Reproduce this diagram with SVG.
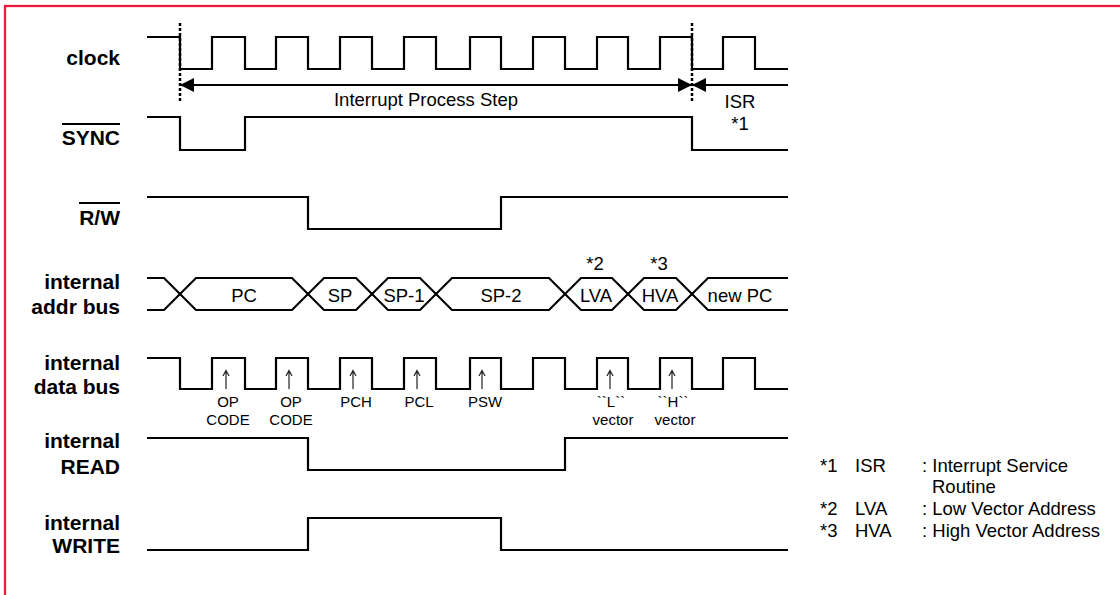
<svg xmlns="http://www.w3.org/2000/svg" width="1120" height="595" viewBox="0 0 1120 595">
<defs>
<style>
.lbl{font-family:"Liberation Sans",Arial,sans-serif;font-weight:bold;font-size:21px;fill:#000;text-anchor:end}
.t{font-family:"Liberation Sans",Arial,sans-serif;font-size:18.5px;fill:#000}
.s{font-family:"Liberation Sans",Arial,sans-serif;font-size:15px;fill:#000;text-anchor:middle}
.m{text-anchor:middle}
.sig{fill:none;stroke:#000;stroke-width:2.2;stroke-linejoin:miter}
.dot{stroke:#000;stroke-width:2.5;stroke-dasharray:3 2}
.ov{stroke:#000;stroke-width:2}
.up{stroke:#222;stroke-width:1.2;fill:none}
</style>
<marker id="ah" viewBox="0 0 10 10" refX="10" refY="5" markerWidth="16" markerHeight="14" markerUnits="userSpaceOnUse" orient="auto">
<path d="M0,0 L10,5 L0,10 Z" fill="#000"/>
</marker>
</defs>
<rect x="0" y="0" width="1120" height="595" fill="#fff"/>
<rect x="5" y="6" width="1300" height="800" fill="none" stroke="#f0193e" stroke-width="2.3"/>

<g id="labels">
<text class="lbl" x="120" y="65">clock</text>
<text class="lbl" x="120" y="145">SYNC</text>
<line class="ov" x1="62" y1="124" x2="120" y2="124"/>
<text class="lbl" x="120" y="225">R/W</text>
<line class="ov" x1="79" y1="203" x2="120" y2="203"/>
<text class="lbl" x="120" y="289">internal</text>
<text class="lbl" x="120" y="314">addr bus</text>
<text class="lbl" x="120" y="370">internal</text>
<text class="lbl" x="120" y="394">data bus</text>
<text class="lbl" x="120" y="448">internal</text>
<text class="lbl" x="120" y="474">READ</text>
<text class="lbl" x="120" y="530">internal</text>
<text class="lbl" x="120" y="553">WRITE</text>
</g>

<g id="clock">
<path class="sig" d="M147,37 H180 V69 H212 V37 H245 V69 H276 V37 H308 V69 H340 V37 H372 V69 H404 V37 H436 V69 H470 V37 H501 V69 H533 V37 H565 V69 H597 V37 H628 V69 H660 V37 H692 V69 H723 V37 H755 V69 H788"/>
</g>

<g id="connectors">
<line class="dot" x1="180" y1="23" x2="180" y2="101"/>
<line class="dot" x1="692" y1="23" x2="692" y2="101"/>
<line x1="195" y1="85" x2="180" y2="85" stroke="#000" stroke-width="2.2" marker-end="url(#ah)"/>
<line x1="195" y1="85" x2="677" y2="85" stroke="#000" stroke-width="2.2"/>
<line x1="677" y1="85" x2="692" y2="85" stroke="#000" stroke-width="2.2" marker-end="url(#ah)"/>
<line x1="707" y1="85" x2="692" y2="85" stroke="#000" stroke-width="2.2" marker-end="url(#ah)"/>
<line x1="707" y1="85" x2="788" y2="85" stroke="#000" stroke-width="2.2"/>
</g>

<g id="step-text">
<text class="t m" x="426" y="106">Interrupt Process Step</text>
<text class="t m" x="740" y="108">ISR</text>
<text class="t m" x="740" y="130">*1</text>
</g>

<g id="sync">
<path class="sig" d="M147,117 H180 V150 H245 V117 H692 V150 H788"/>
</g>

<g id="rw">
<path class="sig" d="M147,197 H308 V229 H501 V197 H788"/>
</g>

<g id="addr-bus">
<path class="sig" d="M147,278 H164 L196,310 H292 L324,278 H356 L388,310 H420 L452,278 H549 L581,310 H612 L644,278 H676 L708,310 H788"/>
<path class="sig" d="M147,310 H164 L196,278 H292 L324,310 H356 L388,278 H420 L452,310 H549 L581,278 H612 L644,310 H676 L708,278 H788"/>
<text class="t m" x="244" y="302">PC</text>
<text class="t m" x="340" y="302">SP</text>
<text class="t m" x="404" y="302">SP-1</text>
<text class="t m" x="501" y="302">SP-2</text>
<text class="t m" x="596" y="302">LVA</text>
<text class="t m" x="660" y="302">HVA</text>
<text class="t m" x="740" y="302">new PC</text>
<text class="t m" x="595" y="270">*2</text>
<text class="t m" x="659" y="270">*3</text>
</g>

<g id="data-bus">
<path class="sig" d="M147,358 H180 V389 H212 V358 H245 V389 H276 V358 H308 V389 H340 V358 H372 V389 H404 V358 H436 V389 H470 V358 H501 V389 H533 V358 H565 V389 H597 V358 H628 V389 H660 V358 H692 V389 H723 V358 H755 V389 H788"/>
<g class="up">
<path d="M226,389 V371 M223,376 L226,370.5 L229,376"/>
<path d="M289,389 V371 M286,376 L289,370.5 L292,376"/>
<path d="M353,389 V371 M350,376 L353,370.5 L356,376"/>
<path d="M417,389 V371 M414,376 L417,370.5 L420,376"/>
<path d="M482,389 V371 M479,376 L482,370.5 L485,376"/>
<path d="M610,389 V371 M607,376 L610,370.5 L613,376"/>
<path d="M672,389 V371 M669,376 L672,370.5 L675,376"/>
</g>
<text class="s" x="228" y="407">OP</text>
<text class="s" x="228" y="425">CODE</text>
<text class="s" x="291" y="407">OP</text>
<text class="s" x="291" y="425">CODE</text>
<text class="s" x="356" y="407">PCH</text>
<text class="s" x="419" y="407">PCL</text>
<text class="s" x="485" y="407">PSW</text>
<text class="s" x="611" y="407">``L``</text>
<text class="s" x="613" y="425">vector</text>
<text class="s" x="673" y="407">``H``</text>
<text class="s" x="675" y="425">vector</text>
</g>

<g id="read">
<path class="sig" d="M147,438 H308 V470 H565 V438 H788"/>
</g>

<g id="write">
<path class="sig" d="M147,550 H308 V518 H501 V550 H788"/>
</g>

<g id="legend" class="t">
<text x="820" y="472">*1</text><text x="855" y="472">ISR</text><text x="922" y="472">: Interrupt Service</text>
<text x="932" y="493">Routine</text>
<text x="820" y="515">*2</text><text x="855" y="515">LVA</text><text x="922" y="515">: Low Vector Address</text>
<text x="820" y="537">*3</text><text x="855" y="537">HVA</text><text x="922" y="537">: High Vector Address</text>
</g>
</svg>
